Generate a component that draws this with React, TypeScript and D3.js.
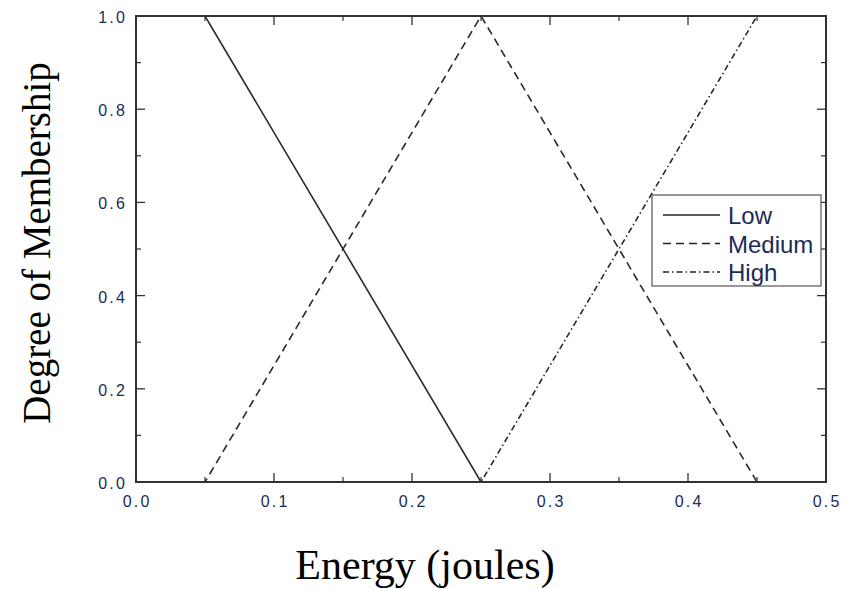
import React from 'react';
import * as d3 from 'd3';

const energy = [0.0, 0.05, 0.25, 0.45, 0.5];
const low = [1, 1, 0, 0, 0];
const medium = [0, 0, 1, 0, 0];
const high = [0, 0, 0, 1, 1];
const seriesNames = ['Low', 'Medium', 'High'];
const xTicks = [0.0, 0.1, 0.2, 0.3, 0.4, 0.5];
const yTicks = [0.0, 0.2, 0.4, 0.6, 0.8, 1.0];

const width = 843;
const height = 589;
const margin = { top: 16, right: 17, bottom: 107, left: 136 };

export default function App() {
  const x = d3.scaleLinear().domain([0, 0.5]).range([margin.left, width - margin.right]);
  const y = d3.scaleLinear().domain([0, 1]).range([height - margin.bottom, margin.top]);

  const line = d3.line<number>()
    .x((d, i) => x(energy[i]))
    .y(d => y(d));

  const styles = ['none', '8,5', '6,3,1.5,3'];
  const data = [low, medium, high];
  const tickColor = '#1c2b55';
  const minorX = d3.range(0.05, 0.5, 0.1);
  const minorY = d3.range(0.1, 1, 0.2);

  const x0 = x(0), x1 = x(0.5), y0 = y(0), y1 = y(1);

  return (
    <svg width={width} height={height} style={{ position: 'absolute', left: 0, top: 0, background: '#fff' }}>
      {data.map((s, k) => (
        <path key={k} d={line(s) || ''} fill="none" stroke="#2a2a2a" strokeWidth={1.6}
          strokeDasharray={styles[k]} />
      ))}
      <rect x={x0} y={y1} width={x1 - x0} height={y0 - y1} fill="none" stroke="#333" strokeWidth={2} />
      {xTicks.map(t => (
        <g key={'x' + t}>
          <line x1={x(t)} x2={x(t)} y1={y0} y2={y0 - 9} stroke="#333" strokeWidth={1.3} />
          <line x1={x(t)} x2={x(t)} y1={y1} y2={y1 + 9} stroke="#333" strokeWidth={1.3} />
          <text x={x(t) + 1.1} y={y0 + 25} textAnchor="middle" fontFamily="Liberation Sans, Arial" fontSize={16} letterSpacing={2.2} fill={tickColor}>{t.toFixed(1)}</text>
        </g>
      ))}
      {minorX.map(t => (
        <g key={'mx' + t}>
          <line x1={x(t)} x2={x(t)} y1={y0} y2={y0 - 5} stroke="#333" strokeWidth={1.2} />
          <line x1={x(t)} x2={x(t)} y1={y1} y2={y1 + 5} stroke="#333" strokeWidth={1.2} />
        </g>
      ))}
      {yTicks.map(t => (
        <g key={'y' + t}>
          <line x1={x0} x2={x0 + 9} y1={y(t)} y2={y(t)} stroke="#333" strokeWidth={1.3} />
          <line x1={x1} x2={x1 - 9} y1={y(t)} y2={y(t)} stroke="#333" strokeWidth={1.3} />
          <text x={x0 - 9} y={y(t) + 7} textAnchor="end" fontFamily="Liberation Sans, Arial" fontSize={16} letterSpacing={2.2} fill={tickColor}>{t.toFixed(1)}</text>
        </g>
      ))}
      {minorY.map(t => (
        <g key={'my' + t}>
          <line x1={x0} x2={x0 + 5} y1={y(t)} y2={y(t)} stroke="#333" strokeWidth={1.2} />
          <line x1={x1} x2={x1 - 5} y1={y(t)} y2={y(t)} stroke="#333" strokeWidth={1.2} />
        </g>
      ))}
      <g transform="translate(652,195)">
        <rect x={0} y={0} width={169} height={91} fill="#fff" stroke="#555" strokeWidth={1.2} />
        {seriesNames.map((n, i) => (
          <g key={n} transform={`translate(0,${20 + i * 28.5})`}>
            <line x1={11} x2={68} y1={0} y2={0} stroke="#222" strokeWidth={1.5} strokeDasharray={styles[i]} />
            <text x={76} y={9} fontFamily="Liberation Sans, Arial" fontSize={24} fill={tickColor}>{n}</text>
          </g>
        ))}
      </g>
      <text x={425} y={579} textAnchor="middle" fontFamily="Liberation Serif, Times New Roman" fontSize={42} fill="#000">Energy (joules)</text>
      <text transform="translate(50,243) rotate(-90)" textAnchor="middle" fontFamily="Liberation Serif, Times New Roman" fontSize={39} fill="#000">Degree of Membership</text>
    </svg>
  );
}
